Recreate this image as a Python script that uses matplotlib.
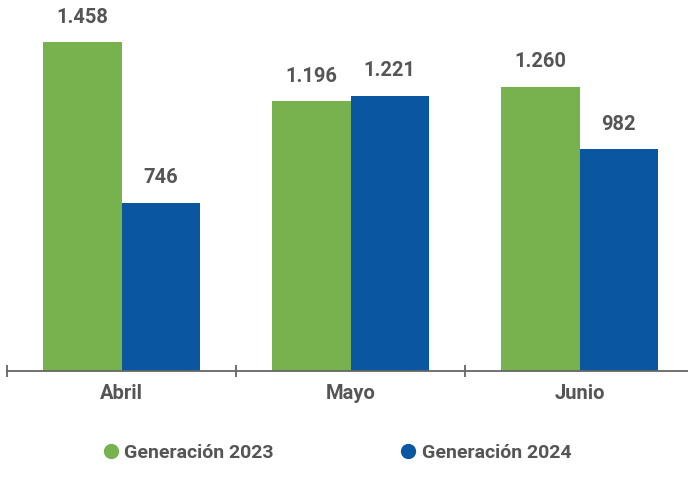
import matplotlib.pyplot as plt
from matplotlib.lines import Line2D
import numpy as np

months = ["Abril", "Mayo", "Junio"]
gen_2023 = [1458, 1196, 1260]
gen_2024 = [746, 1221, 982]
labels_2023 = ["1.458", "1.196", "1.260"]
labels_2024 = ["746", "1.221", "982"]
series_names = ["Generación 2023", "Generación 2024"]

green = "#78B24E"
blue = "#0B56A0"
txt = "#555555"

plt.rcParams['font.family'] = ['Roboto', 'DejaVu Sans']

fig = plt.figure(figsize=(6.88, 4.90), dpi=100)
ax = fig.add_axes([7/688, 119/490, 687/688, 361/490])

x = np.arange(len(months))
w = 0.343
b1 = ax.bar(x - w/2, gen_2023, w, color=green)
b2 = ax.bar(x + w/2, gen_2024, w, color=blue)

for bars, labs in ((b1, labels_2023), (b2, labels_2024)):
    for r, lab in zip(bars, labs):
        ax.annotate(lab, (r.get_x() + r.get_width()/2, r.get_height()),
                    xytext=(0, 11), textcoords='offset points',
                    ha='center', va='bottom', fontsize=14.5, fontweight='bold', color=txt)

ax.set_xlim(-0.5, 2.5)
ax.set_ylim(0, 1600)
for s in ['top', 'right', 'left']:
    ax.spines[s].set_visible(False)
ax.spines['bottom'].set_color('#666666')
ax.spines['bottom'].set_linewidth(1.3)
ax.set_yticks([])
ax.set_xticks([-0.5, 0.5, 1.5, 2.5])
ax.set_xticklabels([])
ax.tick_params(axis='x', direction='inout', length=8, width=1.3, color='#666666')
ax.set_xticks(x, minor=True)
ax.set_xticklabels(months, minor=True, fontsize=14.5, fontweight='bold', color=txt)
ax.tick_params(axis='x', which='minor', length=0, pad=9)

handles = [Line2D([], [], ls='none', marker='o', markersize=10, color=c) for c in (green, blue)]
fig.legend(handles=handles, labels=series_names, loc='center left', bbox_to_anchor=(103/688, 37/490),
           ncol=2, frameon=False, handlelength=0.8, handletextpad=0.3, columnspacing=6.5,
           prop={'size': 14, 'weight': 'bold'}, labelcolor=txt, borderaxespad=0, borderpad=0)

fig.savefig("out.png", dpi=100)
